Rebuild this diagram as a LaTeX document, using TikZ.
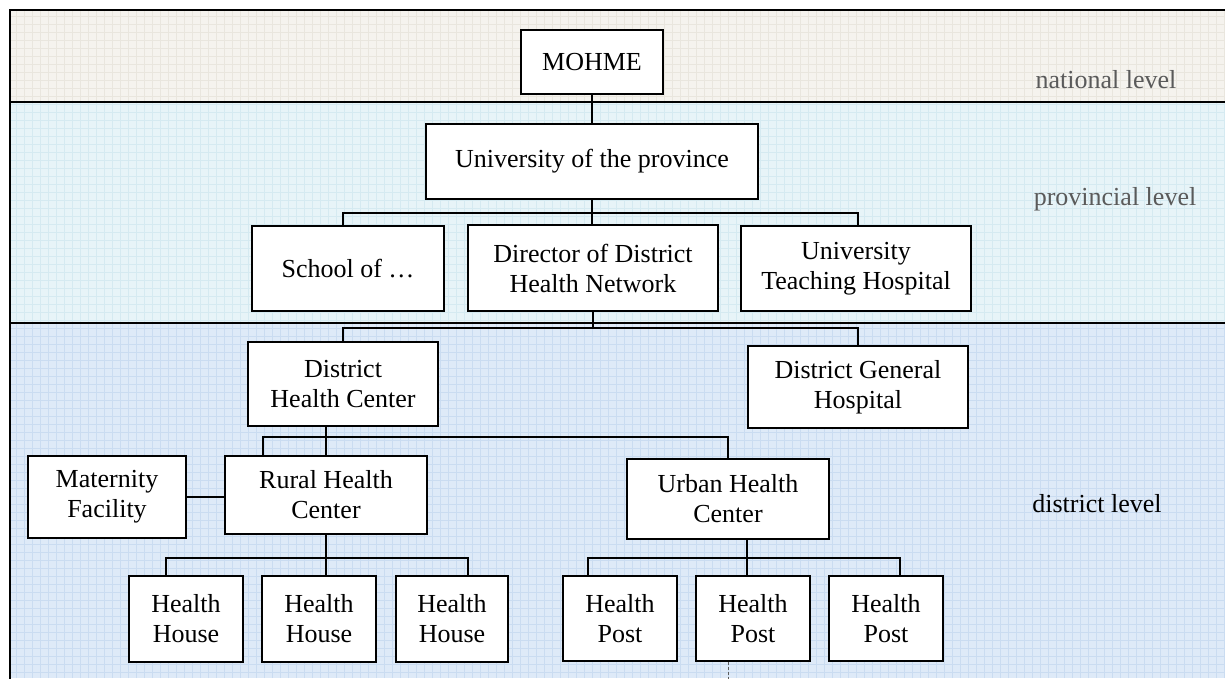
\documentclass[tikz,border=0pt]{standalone}
\usepackage{fontspec}
\setmainfont{Liberation Serif}
\usetikzlibrary{calc}
\definecolor{natfill}{HTML}{F5F3EE}
\definecolor{natgrid}{HTML}{E9E6DE}
\definecolor{provfill}{HTML}{E7F4F8}
\definecolor{provgrid}{HTML}{D5EAF1}
\definecolor{distfill}{HTML}{DEEAF8}
\definecolor{distgrid}{HTML}{CADCF1}
\definecolor{lblgray}{HTML}{5A5A5A}
\begin{document}
\begin{tikzpicture}[x=1pt,y=-1pt,
  box/.style={draw=black, line width=2pt, fill=white, inner sep=0pt, align=center,
              font=\fontsize{26}{30}\selectfont},
  conn/.style={draw=black, line width=2pt},
  frameline/.style={draw=black, line width=2.6pt},
  lvl/.style={font=\fontsize{26}{30}\selectfont, anchor=base, inner sep=0pt}]
\useasboundingbox (0,0) rectangle (1225,678);
% bands
\fill[natfill] (10,10) rectangle (1225,102);
\draw[natgrid, line width=0.5pt, step=8pt] (10,10) grid (1225,102);
\fill[provfill] (10,102) rectangle (1225,323);
\draw[provgrid, line width=0.5pt, step=8pt] (10,102) grid (1225,323);
\fill[distfill] (10,323) rectangle (1225,678);
\draw[distgrid, line width=0.5pt, step=8pt] (10,323) grid (1225,678);
% frame
\draw[frameline] (1230,10) -- (10,10) -- (10,684);
\draw[frameline] (10,102) -- (1230,102);
\draw[frameline] (10,323) -- (1230,323);
% level labels
\node[lvl, text=lblgray] (natl) at (1106,88) {national level};
\node[lvl, text=lblgray] (provl) at (1115,205) {provincial level};
\node[lvl, text=black] (distl) at (1097,512) {district level};
% boxes
\node[box, minimum width=142pt, minimum height=64pt] (mohme) at (592,62) {MOHME};
\node[box, minimum width=332pt, minimum height=75pt] (univ) at (592,161.5) {University of the province};
\node[box, minimum width=192pt, minimum height=85pt] (school) at (348,268.5) {School of …};
\node[box, minimum width=250pt, minimum height=86pt] (director) at (593,268) {Director of District\\Health Network};
\node[box, minimum width=230pt, minimum height=85pt] (teaching) at (856,268.5) {University\\Teaching Hospital};
\node[box, minimum width=190pt, minimum height=84pt] (dhc) at (343,384) {District\\Health Center};
\node[box, minimum width=220pt, minimum height=82pt] (dgh) at (858,387) {District General\\Hospital};
\node[box, minimum width=158pt, minimum height=82pt] (maternity) at (107,497) {Maternity\\Facility};
\node[box, minimum width=202pt, minimum height=78pt] (rhc) at (326,495) {Rural Health\\Center};
\node[box, minimum width=202pt, minimum height=80pt] (uhc) at (728,499) {Urban Health\\Center};
\node[box, minimum width=114pt, minimum height=86pt] (hh1) at (186,619) {Health\\House};
\node[box, minimum width=114pt, minimum height=86pt] (hh2) at (319,619) {Health\\House};
\node[box, minimum width=112pt, minimum height=86pt] (hh3) at (452,619) {Health\\House};
\node[box, minimum width=114pt, minimum height=85pt] (hp1) at (620,618.5) {Health\\Post};
\node[box, minimum width=114pt, minimum height=85pt] (hp2) at (753,618.5) {Health\\Post};
\node[box, minimum width=114pt, minimum height=85pt] (hp3) at (886,618.5) {Health\\Post};
% bus coordinates
\coordinate (bus1) at (0,213);
\coordinate (bus2) at (0,328);
\coordinate (bus3) at (0,437);
\coordinate (bus4) at (0,558);
\coordinate (bottom) at (0,680);
% connectors
\draw[conn] (mohme.south) -- (univ.north);
\draw[conn] (univ.south) -- (univ.south |- director.north);
\draw[conn] ([xshift=-5pt]school.north) |- ($(bus1 -| teaching.north)+(2,0)$) -- ([xshift=2pt]teaching.north);
\draw[conn] (director.south) -- (director.south |- bus2);
\draw[conn] (dhc.north) -- (dhc.north |- bus2) -- (dgh.north |- bus2) -- (dgh.north);
\draw[conn] (rhc.north |- dhc.south) -- (rhc.north);
\draw[conn] ([xshift=-63pt]rhc.north) |- (bus3 -| uhc.north) -- (uhc.north);
\draw[conn] (maternity.east) -- (maternity.east -| rhc.west);
\draw[conn] (rhc.south) -- (rhc.south |- hh2.north);
\draw[conn] ([xshift=-20pt]hh1.north) |- ($(bus4 -| hh3.north)+(16,0)$) -- ([xshift=16pt]hh3.north);
\draw[conn] ([xshift=19pt]uhc.south) -- ([xshift=-6pt]hp2.north);
\draw[conn] ([xshift=-32pt]hp1.north) |- ($(bus4 -| hp3.north)+(14,0)$) -- ([xshift=14pt]hp3.north);
\draw[lblgray, line width=1pt, densely dashed] ([xshift=-25pt]hp2.south) -- ([xshift=-25pt]hp2.south |- bottom);
\end{tikzpicture}
\end{document}
